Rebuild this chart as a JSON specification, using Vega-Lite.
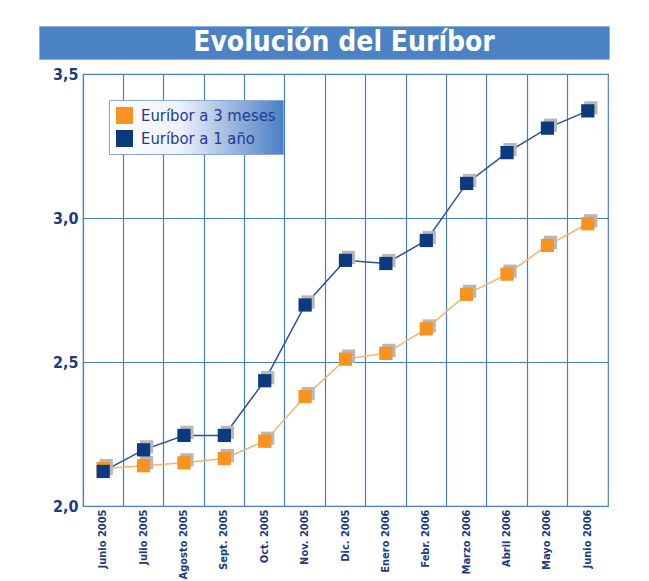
{
  "$schema": "https://vega.github.io/schema/vega-lite/v6.json",
  "padding": {"left": 38, "top": 25, "right": 5, "bottom": 0},
  "autosize": {"type": "pad"},
  "background": "white",
  "spacing": 5,
  "config": {"font": "DejaVu Sans Condensed"},
  "resolve": {"scale": {"color": "independent", "stroke": "independent"}, "legend": {"color": "independent", "stroke": "independent"}},
  "vconcat": [
    {
      "width": 570,
      "height": 33,
      "view": {"fill": "#4a82c4", "stroke": "#8fb3e0"},
      "data": {"values": [{"t": "Evolución del Euríbor"}]},
      "mark": {"type": "text", "color": "white", "fontSize": 28, "fontWeight": "bold", "dx": 20, "font": "DejaVu Sans Condensed"},
      "encoding": {"text": {"field": "t"}}
    },
    {
      "spacing": 0,
      "resolve": {"scale": {"color": "independent", "stroke": "independent"}, "legend": {"color": "independent", "stroke": "independent"}},
      "hconcat": [
        {
          "width": 1,
          "height": 1,
          "view": {"stroke": null, "fill": null},
          "data": {"values": []},
          "mark": "point"
        },
        {
          "width": 525,
          "height": 432,
          "view": {"stroke": "#4a7fc6", "strokeWidth": 1.2},
          "data": {
            "values": [
              {"mes": "Junio 2005", "serie": "Euríbor a 3 meses", "valor": 2.13},
              {"mes": "Julio 2005", "serie": "Euríbor a 3 meses", "valor": 2.14},
              {"mes": "Agosto 2005", "serie": "Euríbor a 3 meses", "valor": 2.15},
              {"mes": "Sept. 2005", "serie": "Euríbor a 3 meses", "valor": 2.165},
              {"mes": "Oct. 2005", "serie": "Euríbor a 3 meses", "valor": 2.225},
              {"mes": "Nov. 2005", "serie": "Euríbor a 3 meses", "valor": 2.38},
              {"mes": "Dic. 2005", "serie": "Euríbor a 3 meses", "valor": 2.51},
              {"mes": "Enero 2006", "serie": "Euríbor a 3 meses", "valor": 2.53},
              {"mes": "Febr. 2006", "serie": "Euríbor a 3 meses", "valor": 2.615},
              {"mes": "Marzo 2006", "serie": "Euríbor a 3 meses", "valor": 2.735},
              {"mes": "Abril 2006", "serie": "Euríbor a 3 meses", "valor": 2.805},
              {"mes": "Mayo 2006", "serie": "Euríbor a 3 meses", "valor": 2.905},
              {"mes": "Junio 2006", "serie": "Euríbor a 3 meses", "valor": 2.98},
              {"mes": "Junio 2005", "serie": "Euríbor a 1 año", "valor": 2.12},
              {"mes": "Julio 2005", "serie": "Euríbor a 1 año", "valor": 2.195},
              {"mes": "Agosto 2005", "serie": "Euríbor a 1 año", "valor": 2.245},
              {"mes": "Sept. 2005", "serie": "Euríbor a 1 año", "valor": 2.245},
              {"mes": "Oct. 2005", "serie": "Euríbor a 1 año", "valor": 2.435},
              {"mes": "Nov. 2005", "serie": "Euríbor a 1 año", "valor": 2.698},
              {"mes": "Dic. 2005", "serie": "Euríbor a 1 año", "valor": 2.853},
              {"mes": "Enero 2006", "serie": "Euríbor a 1 año", "valor": 2.842},
              {"mes": "Febr. 2006", "serie": "Euríbor a 1 año", "valor": 2.922},
              {"mes": "Marzo 2006", "serie": "Euríbor a 1 año", "valor": 3.12},
              {"mes": "Abril 2006", "serie": "Euríbor a 1 año", "valor": 3.227},
              {"mes": "Mayo 2006", "serie": "Euríbor a 1 año", "valor": 3.312},
              {"mes": "Junio 2006", "serie": "Euríbor a 1 año", "valor": 3.372}
            ]
          },
          "encoding": {
            "x": {
              "field": "mes",
              "type": "nominal",
              "sort": ["Junio 2005", "Julio 2005", "Agosto 2005", "Sept. 2005", "Oct. 2005", "Nov. 2005", "Dic. 2005", "Enero 2006", "Febr. 2006", "Marzo 2006", "Abril 2006", "Mayo 2006", "Junio 2006"],
              "scale": {"type": "band", "paddingInner": 0, "paddingOuter": 0},
              "title": null,
              "axis": {
                "grid": true,
                "gridColor": "#4a7fc6",
                "gridWidth": 1.2,
                "gridOpacity": 1,
                "bandPosition": 0,
                "ticks": false,
                "domain": false,
                "labelAngle": -90,
                "labelAlign": "right",
                "labelBaseline": "middle",
                "labelPadding": 3,
                "labelFontSize": 11,
                "labelFontWeight": "bold",
                "labelColor": "#1b3c82",
                "labelFont": "DejaVu Sans Condensed"
              }
            },
            "y": {
              "field": "valor",
              "type": "quantitative",
              "scale": {"domain": [2, 3.5], "nice": false, "zero": false},
              "title": null,
              "axis": {
                "values": [2, 2.5, 3, 3.5],
                "labelExpr": "replace(format(datum.value, '.1f'), '.', ',')",
                "grid": true,
                "gridColor": "#4a7fc6",
                "gridWidth": 1.2,
                "gridOpacity": 1,
                "ticks": false,
                "domain": false,
                "labelFontSize": 16,
                "labelFontWeight": "bold",
                "labelColor": "#1b3c82",
                "labelPadding": 5,
                "minExtent": 42,
                "labelFont": "DejaVu Sans Condensed"
              }
            }
          },
          "layer": [
            {
              "mark": {"type": "line", "strokeWidth": 1.5},
              "encoding": {
                "stroke": {
                  "field": "serie",
                  "type": "nominal",
                  "scale": {"domain": ["Euríbor a 1 año", "Euríbor a 3 meses"], "range": ["#27529c", "#fab36a"]},
                  "legend": null
                }
              }
            },
            {
              "mark": {"type": "point", "shape": "square", "filled": true, "size": 175, "color": "#b8b8b8", "opacity": 1},
              "encoding": {
                "xOffset": {"value": 23.2},
                "yOffset": {"value": -3},
                "detail": {"field": "serie", "type": "nominal"}
              }
            },
            {
              "mark": {"type": "point", "shape": "square", "filled": true, "size": 175, "opacity": 1},
              "encoding": {
                "color": {
                  "field": "serie",
                  "type": "nominal",
                  "scale": {"domain": ["Euríbor a 3 meses", "Euríbor a 1 año"], "range": ["#f7931e", "#0b3a7f"]},
                  "legend": {
                    "orient": "top-left",
                    "offset": 26,
                    "title": null,
                    "symbolType": "square",
                    "symbolSize": 289,
                    "symbolOpacity": 1,
                    "symbolStrokeWidth": 0,
                    "labelFontSize": 16.5,
                    "labelColor": "#1f3a8f",
                    "labelFont": "DejaVu Sans Condensed",
                    "labelOffset": 8,
                    "rowPadding": 6,
                    "padding": 7,
                    "strokeColor": "#8aa9d6",
                    "encode": {
                      "legend": {
                        "update": {
                          "fill": {"value": {"gradient": "linear", "x1": 0, "y1": 0, "x2": 1, "y2": 0, "stops": [{"offset": 0, "color": "#ffffff"}, {"offset": 0.4, "color": "#eef2fa"}, {"offset": 1, "color": "#4a7fc6"}]}}
                        }
                      }
                    }
                  }
                }
              }
            }
          ]
        }
      ]
    }
  ]
}
